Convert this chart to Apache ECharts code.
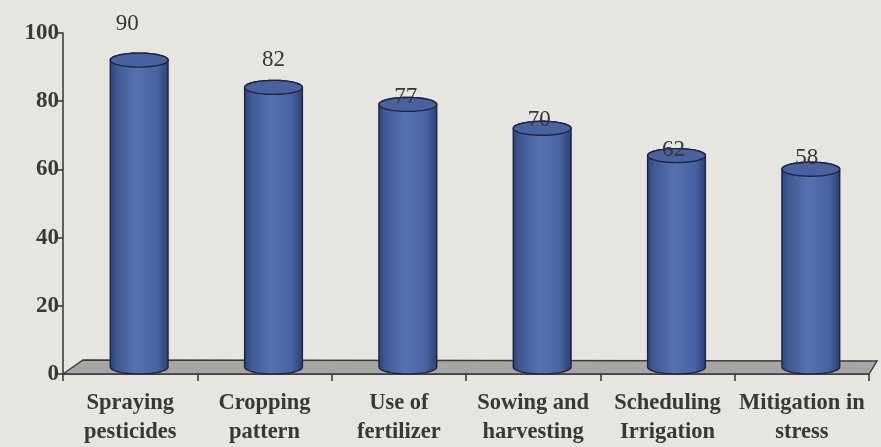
<!DOCTYPE html>
<html><head><meta charset="utf-8">
<script src="https://cdn.jsdelivr.net/npm/echarts@6/dist/echarts.min.js"></script>
<style>html,body{margin:0;padding:0;background:#e7e5e0}#c{width:881px;height:447px}</style>
</head><body><div id="c"></div>
<script>
const categories = ['Spraying\npesticides','Cropping\npattern','Use of\nfertilizer','Sowing and\nharvesting','Scheduling\nIrrigation','Mitigation in\nstress'];
const values = [90, 82, 77, 70, 62, 58];
const yMin = 0, yMax = 100, yStep = 20;
// label placement tweaks (pixels), kept apart from data
const labelLift = [36, 27, 7, 8, 6, 11];
const labelShift = [-12, 0, -2, -3, -3, -4];

const chart = echarts.init(document.getElementById('c'), null, {renderer: 'canvas'});
const serif = '"Liberation Serif", "Times New Roman", serif';
const DX = 9, DY = -7;

function renderCyl(params, api) {
  const i = api.value(0), v = api.value(1);
  const top = api.coord([i, v]);
  const base = api.coord([i, 0]);
  const band = api.size([1, 0])[0];
  const w = band * 0.43, rx = w / 2, ry = 7;
  const cx = top[0] + DX, ty = top[1] + DY, by = base[1] + DY;
  const N = 40;
  const upper = [], lower = [], ell = [];
  for (let k = 0; k <= N; k++) { const a = Math.PI * k / N; upper.push([cx - rx * Math.cos(a), ty - ry * Math.sin(a)]); }
  for (let k = 0; k <= N; k++) { const a = Math.PI * k / N; lower.push([cx + rx * Math.cos(a), by + ry * Math.sin(a)]); }
  for (let k = 0; k < 2 * N; k++) { const a = Math.PI * k / N; ell.push([cx + rx * Math.cos(a), ty + ry * Math.sin(a)]); }
  const grad = new echarts.graphic.LinearGradient(0, 0, 1, 0, [
    {offset: 0, color: '#2f4277'},
    {offset: 0.12, color: '#405895'},
    {offset: 0.45, color: '#5771b0'},
    {offset: 0.8, color: '#4a64a3'},
    {offset: 1, color: '#2c3d70'}
  ]);
  return {
    type: 'group',
    children: [
      {type: 'polygon', shape: {points: upper.concat(lower)},
       style: {fill: grad, stroke: '#1d2440', lineWidth: 1.4}},
      {type: 'polygon', shape: {points: ell},
       style: {fill: '#4a619f', stroke: '#1d2440', lineWidth: 1.4}},
      {type: 'text', style: {
        text: String(v), x: cx + labelShift[i], y: ty - labelLift[i],
        align: 'center', verticalAlign: 'middle',
        font: '23px ' + serif, fill: '#353535'}}
    ]
  };
}

function renderFloor(params, api) {
  const cs = params.coordSys;
  const x0 = cs.x, x1 = cs.x + cs.width, yf = cs.y + cs.height;
  return {
    type: 'polygon',
    shape: {points: [[x0, yf], [x1, yf], [x1 + 8, yf - 13], [x0 + 20, yf - 14]]},
    style: {fill: '#a6a6a6', stroke: '#3a3a3a', lineWidth: 1.4}
  };
}

chart.setOption({
  backgroundColor: '#e7e5e0',
  animation: false,
  grid: {left: 63, right: 12, top: 33, bottom: 64, containLabel: false},
  xAxis: {
    type: 'category', data: categories,
    axisLine: {show: true, lineStyle: {color: '#333', width: 1.5}},
    axisTick: {show: true, length: 7, lineStyle: {color: '#333', width: 1.5}},
    axisLabel: {interval: 0, margin: 15, fontFamily: serif, fontWeight: 'bold',
      fontSize: 22.5, lineHeight: 29, color: '#383838'},
    splitLine: {show: false}
  },
  yAxis: {
    type: 'value', min: yMin, max: yMax, interval: yStep,
    axisLine: {show: true, lineStyle: {color: '#333', width: 1.5}},
    axisTick: {show: true, length: 6, lineStyle: {color: '#333', width: 1.5}},
    axisLabel: {margin: 4, fontFamily: serif, fontWeight: 'bold', fontSize: 23, color: '#383838'},
    splitLine: {show: false}
  },
  series: [
    {type: 'custom', z: 1, clip: false, silent: true, renderItem: renderFloor, data: [[0, 0]]},
    {type: 'custom', z: 3, clip: false, renderItem: renderCyl,
     encode: {x: 0, y: 1}, data: values.map((v, i) => [i, v])}
  ]
});
</script></body></html>
